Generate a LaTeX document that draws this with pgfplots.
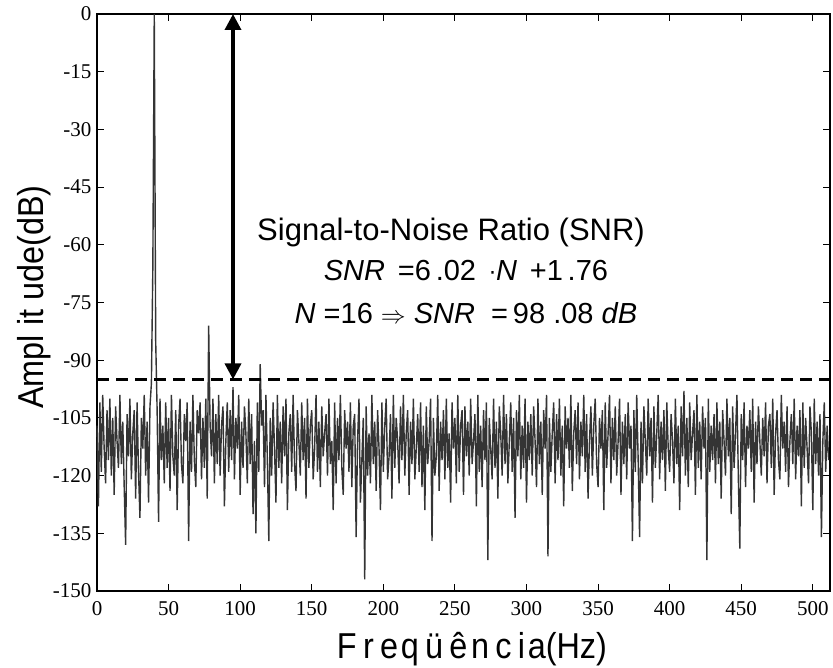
\documentclass[border=0pt]{standalone}
\usepackage{pgfplots}
\usepackage{pgfplotstable}
\pgfplotsset{compat=1.18}
\usetikzlibrary{arrows.meta}
\usepackage{fontspec}
\setmainfont{Liberation Sans}
\newfontfamily\timesfont{Liberation Serif}
\newfontfamily\dejavu{DejaVu Sans}
\definecolor{noisegray}{RGB}{52,52,52}
\pgfplotstableread[row sep=\\, header=false]{
-107\\-128\\-101\\-119\\-99\\-113\\-122\\-103\\-116\\-100\\-120\\-105\\-125\\-102\\-111\\-118\\
-99\\-117\\-106\\-123\\-138\\-104\\-115\\-100\\-121\\-109\\-103\\-126\\-101\\-119\\-131\\-105\\
-113\\-99\\-120\\-106\\-127\\-102\\-96\\-66\\0\\-85\\-103\\-132\\-100\\-116\\-107\\-122\\
-101\\-118\\-105\\-124\\-99\\-115\\-120\\-103\\-129\\-107\\-100\\-117\\-122\\-104\\-111\\-101\\
-137\\-106\\-119\\-99\\-116\\-123\\-103\\-109\\-101\\-121\\-105\\-118\\-100\\-126\\-81\\-107\\
-115\\-100\\-122\\-104\\-117\\-99\\-120\\-107\\-102\\-128\\-111\\-101\\-119\\-103\\-116\\-97\\
-121\\-105\\-113\\-99\\-125\\-106\\-118\\-102\\-109\\-122\\-100\\-117\\-104\\-130\\-111\\-135\\
-101\\-119\\-91\\-107\\-103\\-123\\-99\\-116\\-137\\-105\\-120\\-101\\-113\\-127\\-99\\-118\\
-106\\-122\\-102\\-115\\-100\\-129\\-109\\-104\\-119\\-99\\-117\\-124\\-103\\-111\\-120\\-101\\
-116\\-105\\-126\\-100\\-118\\-107\\-103\\-121\\-113\\-99\\-119\\-106\\-123\\-102\\-115\\-109\\
-104\\-120\\-100\\-117\\-111\\-129\\-101\\-122\\-105\\-116\\-99\\-118\\-125\\-103\\-113\\-106\\
-119\\-101\\-123\\-107\\-104\\-136\\-111\\-100\\-127\\-116\\-105\\-147\\-102\\-120\\-109\\-122\\
-99\\-117\\-106\\-124\\-103\\-113\\-129\\-101\\-119\\-107\\-100\\-121\\-115\\-104\\-126\\-99\\
-118\\-105\\-111\\-122\\-102\\-116\\-99\\-120\\-109\\-103\\-125\\-106\\-117\\-100\\-121\\-113\\
-104\\-119\\-101\\-123\\-107\\-129\\-102\\-117\\-111\\-100\\-137\\-105\\-120\\-115\\-99\\-124\\
-106\\-116\\-103\\-121\\-100\\-118\\-109\\-127\\-101\\-113\\-105\\-122\\-99\\-119\\-107\\-103\\
-125\\-102\\-115\\-106\\-120\\-100\\-117\\-111\\-104\\-128\\-99\\-119\\-107\\-123\\-103\\-116\\
-101\\-142\\-105\\-113\\-121\\-100\\-118\\-106\\-126\\-102\\-109\\-120\\-99\\-117\\-104\\-122\\
-111\\-101\\-119\\-105\\-131\\-103\\-115\\-99\\-121\\-107\\-118\\-100\\-127\\-106\\-116\\-104\\
-120\\-102\\-111\\-123\\-100\\-117\\-106\\-125\\-103\\-113\\-99\\-141\\-105\\-119\\-109\\-101\\
-122\\-104\\-116\\-100\\-120\\-107\\-128\\-102\\-113\\-105\\-118\\-99\\-124\\-109\\-103\\-117\\
-101\\-121\\-106\\-115\\-99\\-119\\-104\\-126\\-111\\-102\\-120\\-107\\-100\\-117\\-123\\-105\\
-113\\-103\\-129\\-101\\-118\\-109\\-99\\-122\\-105\\-116\\-102\\-120\\-111\\-100\\-125\\-106\\
-117\\-104\\-121\\-101\\-113\\-107\\-137\\-103\\-119\\-99\\-116\\-136\\-106\\-122\\-102\\-111\\
-120\\-100\\-115\\-105\\-127\\-102\\-118\\-109\\-99\\-121\\-106\\-116\\-103\\-124\\-101\\-113\\
-119\\-104\\-111\\-122\\-100\\-117\\-107\\-129\\-102\\-115\\-98\\-120\\-105\\-123\\-101\\-116\\
-109\\-103\\-125\\-99\\-118\\-106\\-121\\-102\\-113\\-105\\-142\\-100\\-119\\-107\\-116\\-104\\
-122\\-101\\-117\\-106\\-126\\-103\\-111\\-120\\-100\\-115\\-105\\-130\\-102\\-118\\-109\\-99\\
-121\\-139\\-104\\-116\\-101\\-123\\-107\\-113\\-103\\-119\\-100\\-127\\-106\\-117\\-102\\-111\\
-120\\-105\\-115\\-101\\-122\\-107\\-104\\-118\\-100\\-125\\-109\\-103\\-116\\-121\\-99\\-113\\
-106\\-119\\-102\\-123\\-111\\-104\\-117\\-100\\-121\\-107\\-115\\-103\\-128\\-101\\-118\\-105\\
-113\\-122\\-102\\-109\\-129\\-100\\-117\\-106\\-120\\-104\\-136\\-111\\-101\\-119\\-107\\-116\\
}\noise
\begin{document}
\begin{tikzpicture}[x=1pt,y=1pt]
\path[use as bounding box] (0,0) rectangle (833,667);
\begin{axis}[
  at={(97pt,76pt)}, anchor=south west,
  scale only axis, width=733pt, height=577pt,
  xmin=0, xmax=512, ymin=-150, ymax=0,
  xtick={0,50,100,150,200,250,300,350,400,450,500},
  xticklabels={0,50,100,150,200,250,300,350,400,450,500},
  ytick={-150,-135,-120,-105,-90,-75,-60,-45,-30,-15,0},
  yticklabels={-150,-135,-120,-105,-90,-75,-60,-45,-30,-15,0},
  tick label style={font=\timesfont\fontsize{21}{21}\selectfont},
  yticklabel style={xshift=-2pt},
  xticklabel style={yshift=-7pt},
  tick align=inside, major tick length=7pt,
  axis line style={line width=1.2pt},
  every tick/.style={black, line width=1pt},
  clip=false,
]
\addplot[color=noisegray, line width=1.4pt, line join=bevel, no marks] table[x expr=\coordindex, y index=0] {\noise};
\draw[line width=3.5pt, dash pattern=on 12pt off 7pt] (axis cs:0,-95) -- (axis cs:512,-95);
\draw[{Triangle[width=16pt,length=16pt]}-{Triangle[width=16pt,length=16pt]}, line width=3.5pt] (axis cs:95,0) -- (axis cs:95,-95);
\node[font=\fontsize{31}{31}\selectfont] at (axis cs:247.3,-56.9) {Signal-to-Noise Ratio (SNR)};
\node[font=\fontsize{29}{29}\selectfont] at (axis cs:257.7,-66.8) {\textit{SNR}\ \,=6\,.02\ \,{\dejavu\fontsize{22}{22}\selectfont·}\textit{N}\ \,+1\,.76};
\node[font=\fontsize{29}{29}\selectfont] at (axis cs:257.7,-77.7) {\textit{N}\ =16\ {\fontsize{34}{34}\selectfont$\Rightarrow$}\ \textit{SNR}\ \ =\,98\ .08\ \textit{dB}};
\end{axis}
\node[anchor=base, inner sep=0pt] at (472,9) {\scalebox{0.9}[1]{\fontsize{36}{36}\selectfont F\hspace{7pt}r\hspace{7pt}e\hspace{3pt}q\hspace{7pt}ü\hspace{7pt}ê\hspace{4pt}n\hspace{7pt}c\hspace{7pt}i\hspace{3pt}a(Hz)}};
\node[anchor=base, rotate=90, inner sep=0pt] at (43,370) {\scalebox{0.9}[1]{\fontsize{36}{36}\selectfont Ampl it ude(dB)}};
\end{tikzpicture}
\end{document}
